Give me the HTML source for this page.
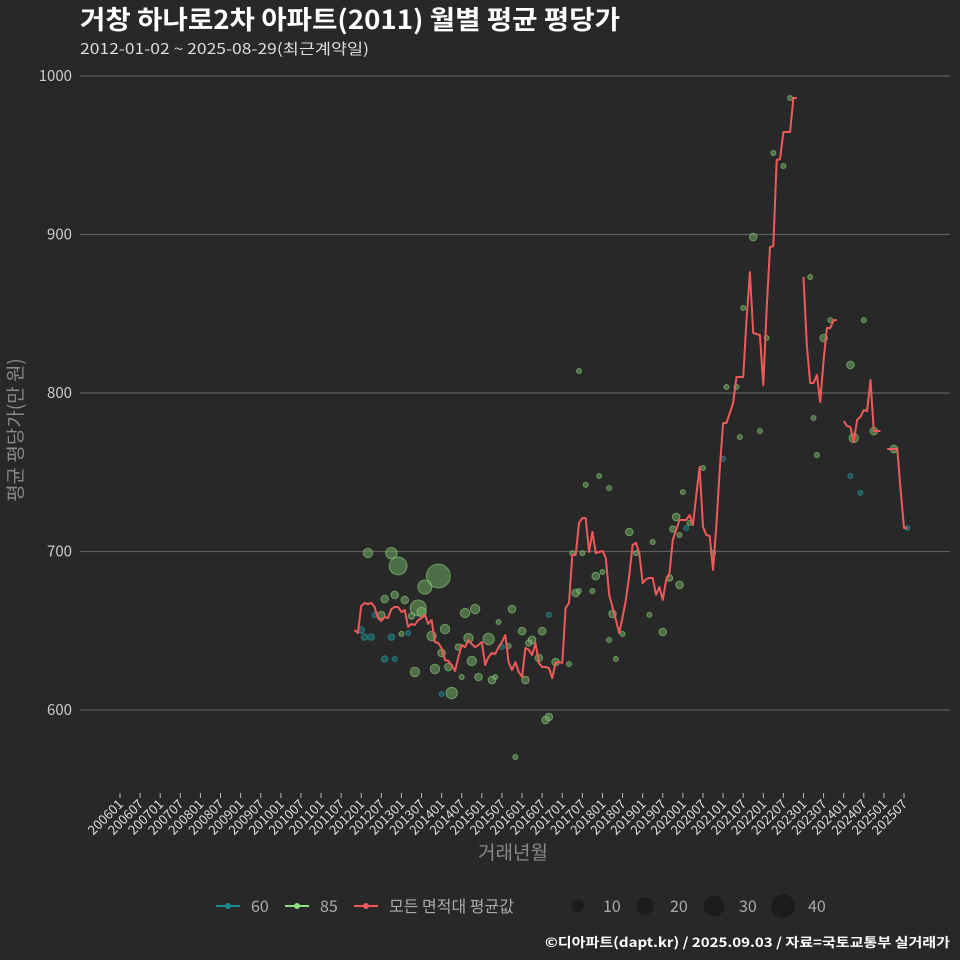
<!DOCTYPE html>
<html><head><meta charset="utf-8">
<style>
html,body{margin:0;padding:0;background:#282828;}
svg{display:block;font-family:"Noto Sans CJK KR","NanumGothic",sans-serif;}
</style></head>
<body>
<svg id="chart" width="960" height="960" viewBox="0 0 960 960">
<rect width="960" height="960" fill="#282828"/>
<text x="80" y="29" fill="#ffffff" font-size="26" font-weight="bold" textLength="540" lengthAdjust="spacingAndGlyphs">거창 하나로2차 아파트(2011) 월별 평균 평당가</text>
<text x="80" y="54" fill="#dddddd" font-size="15" textLength="289" lengthAdjust="spacingAndGlyphs">2012-01-02 ~ 2025-08-29(최근계약일)</text>
<g id="grid"></g>
<g id="yticks"></g>
<g id="xticks"></g>
<g id="bubbles"></g>
<g id="line"></g>
<text transform="translate(22,430) rotate(-90)" text-anchor="middle" fill="#888" font-size="19">평균 평당가(만 원)</text>
<text x="513" y="859" text-anchor="middle" fill="#888" font-size="19">거래년월</text>
<g id="legend"></g>
<text x="950" y="947" text-anchor="end" fill="#ffffff" font-size="13" font-weight="bold" textLength="405" lengthAdjust="spacingAndGlyphs">©디아파트(dapt.kr) / 2025.09.03 / 자료=국토교통부 실거래가</text>
</svg>
<script>
const yTicks = [600, 700, 800, 900, 1000];
const lineStart = "2011-11";
const lineValues = [650.5,648.6,665.6,667.5,666.9,667.5,665,658,656.2,658.7,658,663.7,665,665,661.8,663,652.4,654.3,653.6,656.8,658,660,654.3,656.8,642.9,642.3,639,631.5,631,628.4,624.6,633.4,641,639.7,644.2,641.6,639.7,641,642.9,628.4,633.4,636,635.3,639.7,642.9,647.3,630.3,625.2,630.3,624,620.8,639.1,637.9,634.7,642.3,629.7,627.1,627.1,626.5,620.2,629.7,630.3,629.7,664.4,667.5,697.8,697.8,718,721.1,721.1,699.7,712.3,699,699.7,700.3,695.9,672.6,665,656.8,648.6,658.7,669.4,685.2,704.1,705.4,699,680,682.6,683.3,683.3,672.6,677.6,669.4,682,686.4,707.3,713.6,719.9,719.9,719.9,723,716.7,735.6,753.3,715.5,710.4,709.8,688.3,716.7,751.4,781.1,781.1,787.4,793.7,810.1,810.1,810.1,846,876.3,837.9,837.2,836.6,805,852.3,892.1,892.7,947,947.6,964.7,964.7,964.7,986.1,986.1,null,873.2,830.3,806.3,806.3,811.4,794.3,820.8,841,841,846,846,null,782.3,779.2,778.5,769.1,783,784.9,789.3,788.6,808.2,776,776,776,null,764.7,764.7,764.7,764.7,738.8,714.8,714.8];
const g85Months = ["2012-03","2012-10","2012-12","2013-12","2013-08","2012-08","2012-11","2013-02","2013-06","2013-07","2012-07","2013-04","2014-08","2014-11","2015-10","2015-06","2014-02","2013-10","2014-09","2015-03","2016-01","2016-07","2016-04","2016-03","2015-09","2013-01","2014-06","2014-01","2016-06","2016-11","2017-03","2014-10","2013-11","2014-03","2013-05","2014-12","2015-04","2015-05","2014-07","2016-02","2014-04","2016-09","2016-08","2015-11","2017-04","2017-07","2017-05","2017-06","2017-10","2017-11","2018-01","2018-09","2019-04","2018-11","2018-04","2018-07","2018-03","2018-05","2019-03","2017-06","2017-08","2017-12","2018-03","2019-07","2019-09","2019-12","2019-11","2019-10","2019-12","2020-01","2020-03","2020-07","2020-10","2021-02","2021-05","2021-06","2021-07","2021-10","2021-12","2022-02","2022-04","2022-07","2022-09","2023-03","2023-04","2023-05","2023-07","2023-09","2024-03","2024-04","2024-07","2024-10","2025-04"];
const g85Values = [699.1,699,690.9,684.5,677.6,670,672.6,669.4,664.4,661.8,659.9,659.3,661.2,663.7,663.7,655.5,651.1,646.7,645.4,644.8,649.8,649.8,644.2,642.3,640.4,648,639.7,636,632.8,630.3,629,630.9,625.9,627.1,624,620.8,618.9,620.8,620.8,618.9,610.7,595.6,593.7,570.3,699,699,673.8,675.1,675.1,684.5,687.1,712.3,706,699,660.6,648,644.2,632.2,660,813.9,742,747.6,740,649.2,683.3,678.9,721.8,714.2,710.4,737.5,718,752.7,699,803.8,803.8,772.2,853.6,898.4,776,834.7,951.4,943.2,986.1,873.2,784.2,760.9,834.7,846,817.7,771.6,846,776,764.7];
const g85Counts = [5,8,22,41,13,3,3,3,17,5,3,2,5,5,3,1,5,5,5,8,3,3,3,2,1,1,2,3,3,3,1,5,5,3,5,3,3,1,1,3,8,3,3,1,1,1,3,1,1,3,1,3,1,1,3,1,1,1,1,1,1,1,1,3,2,3,3,2,1,1,1,1,1,1,1,1,1,3,1,1,1,1,1,1,1,1,3,1,3,5,1,3,3];
const g60Months = ["2012-01","2012-02","2012-04","2012-10","2012-05","2013-03","2012-08","2012-11","2016-09","2015-07","2014-01","2020-02","2021-01","2024-03","2024-06","2025-08"];
const g60Values = [650.5,646,646,646,660,648.6,632.2,632.2,660,639.7,610,714.8,758.4,747.6,736.9,714.8];
const g60Counts = [2,2,2,2,1,1,2,1,1,1,1,1,1,1,1,1];
const legendSeries = ["60","85","모든 면적대 평균값"];
const legendSizes = [10,20,30,40];

const NS="http://www.w3.org/2000/svg";
function mk(tag,attrs,parent){const e=document.createElementNS(NS,tag);for(const k in attrs)e.setAttribute(k,attrs[k]);parent.appendChild(e);return e;}
function monthIdx(s){const p=s.split("-");return (+p[0]-2006)*12+(+p[1]-1);}
const xScale=m=>120+m*(784/234);
const yScale=v=>710-(v-600)*1.585;
const rScale=n=>0.75+1.75*Math.sqrt(n);

const grid=document.getElementById("grid"), yt=document.getElementById("yticks");
yTicks.forEach(v=>{
  const l=mk("line",{x1:80,x2:950,y1:yScale(v),y2:yScale(v),stroke:"#5e5e5e","stroke-width":1.2},grid);
  
  
  const t=mk("text",{x:72,y:yScale(v)+5,"text-anchor":"end",fill:"#cccccc","font-size":15},yt);
  t.textContent=v;
  
  
});
const xt=document.getElementById("xticks");
for(let m=0;m<=234;m+=6){
  const y=2006+Math.floor(m/12), mo=(m%12)+1;
  const lab=y+String(mo).padStart(2,"0");
  const x=xScale(m);
  const tk=mk("line",{x1:x,x2:x,y1:793,y2:798,stroke:"#bbb","stroke-width":1},xt);
  
  
  const t=mk("text",{x:x+4,y:805,"text-anchor":"end",fill:"#dddddd","font-size":13,transform:`rotate(-45 ${x+4} 805)`},xt);
  t.textContent=lab;
  
  
}
const bub=document.getElementById("bubbles");
function drawBubbles(months,vals,counts,fill,stroke,name){
  months.forEach((mo,i)=>{
    const c=mk("circle",{cx:xScale(monthIdx(mo)),cy:yScale(vals[i]),r:rScale(counts[i]),fill:fill,"fill-opacity":0.55,stroke:stroke,"stroke-opacity":0.6,"stroke-width":1},bub);
    
    
  });
}
drawBubbles(g60Months,g60Values,g60Counts,"#1b7f84","#2aa0a5","bubble-60");
drawBubbles(g85Months,g85Values,g85Counts,"#6ea860","#8fd07e","bubble-85");
const lg=document.getElementById("line");
const s0=monthIdx(lineStart);
let d="",pen=false;
lineValues.forEach((v,i)=>{
  if(v===null){pen=false;return;}
  d+=(pen?"L":"M")+xScale(s0+i).toFixed(1)+","+yScale(v).toFixed(1);
  pen=true;
});
const p=mk("path",{d:d,fill:"none",stroke:"#f0595a","stroke-width":2,"stroke-linejoin":"round"},lg);



const leg=document.getElementById("legend");
const lc=["#1b8a8e","#90e080","#f0595a"], lx=[216,285,354];
legendSeries.forEach((s,i)=>{
  const x=lx[i];
  const l=mk("line",{x1:x,x2:x+24,y1:906,y2:906,stroke:lc[i],"stroke-width":2},leg);
  
  
  const c=mk("circle",{cx:x+12,cy:906,r:3,fill:lc[i]},leg);
  
  
  const t=mk("text",{x:x+35,y:912,fill:"#aaaaaa","font-size":16},leg);
  t.textContent=s;
  
  
});
const sx=[578,645,714,783];
legendSizes.forEach((n,i)=>{
  const c=mk("circle",{cx:sx[i],cy:906,r:rScale(n),fill:"#1c1c1c"},leg);
  
  
  const t=mk("text",{x:sx[i]+25,y:912,fill:"#aaaaaa","font-size":16},leg);
  t.textContent=n;
  
  
});
</script>
</body></html>
